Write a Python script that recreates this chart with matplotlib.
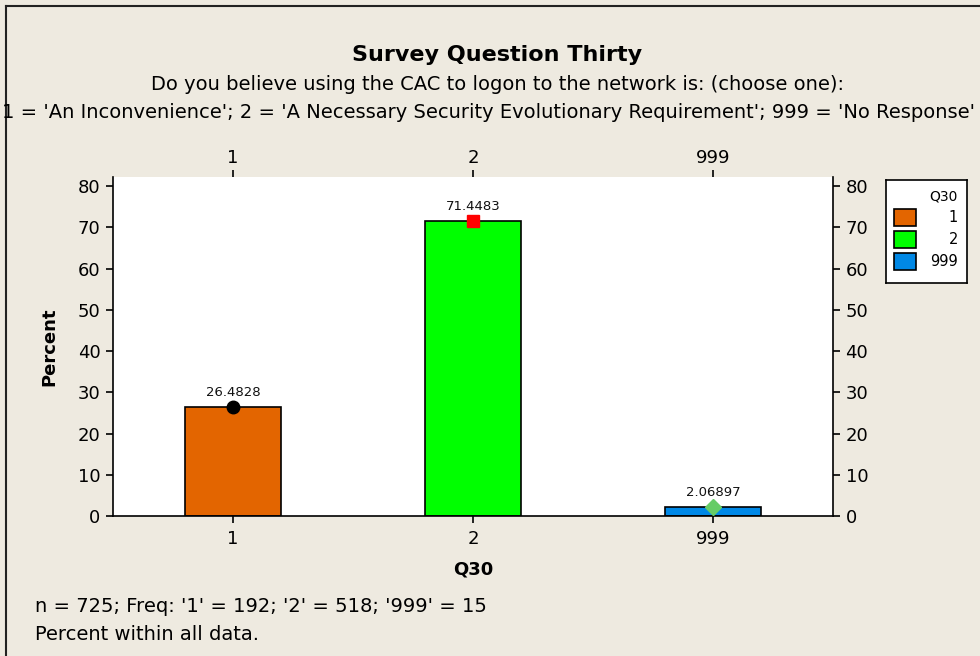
import numpy as np
import matplotlib
matplotlib.use('Agg')
import matplotlib.pyplot as plt
import matplotlib.transforms as mtransforms
from matplotlib.patches import Rectangle

# data
categories = ['1', '2', '999']
percents = [26.4828, 71.4483, 2.06897]
bar_colors = ['#E36500', '#00FF00', '#0088E6']
marker_styles = ['o', 's', 'D']
marker_colors = ['black', '#FF0000', '#66CC66']
yticks = [0, 10, 20, 30, 40, 50, 60, 70, 80]

bg = '#EEEAE0'
plt.rcParams['font.family'] = ['DejaVu Sans']

fig = plt.figure(figsize=(9.8, 6.56), dpi=100, facecolor=bg)

# frame lines on left/top edge of the figure
fig.add_artist(plt.Line2D([6/980, 6/980], [0, 1-6/656], color='#222222', lw=1.5))
fig.add_artist(plt.Line2D([6/980, 1], [1-6/656, 1-6/656], color='#222222', lw=1.5))

ax = fig.add_axes([113/980, 1-516/656, 720/980, 339/656])
ax.set_facecolor('white')

x = np.arange(len(categories))
ax.bar(x, percents, width=0.4, color=bar_colors, edgecolor='black', linewidth=1.2, zorder=2)
for xi, p, m, mc in zip(x, percents, marker_styles, marker_colors):
    ax.plot(xi, p, marker=m, color=mc, markersize=9 if m != 'D' else 8,
            markeredgecolor=mc, zorder=3, linestyle='none')
    ax.text(xi, p + 2.0, str(p), ha='center', va='bottom', fontsize=9.5, color='#111111')

ax.set_xlim(-0.5, 2.5)
ax.set_ylim(0, 82.2)
ax.set_xticks(x)
ax.set_xticklabels(categories)
ax.set_yticks(yticks)
ax.spines['top'].set_visible(False)
for s in ['left', 'right', 'bottom']:
    ax.spines[s].set_linewidth(1.2)
ax.tick_params(axis='both', labelsize=13, length=5, width=1.2, direction='out', pad=4)
ax.tick_params(axis='x', top=True, labeltop=True, pad=5)
ax.tick_params(axis='y', right=True, labelright=True)

# top tick labels sit a little closer to the axes
shift = mtransforms.ScaledTranslation(0, -3/72, fig.dpi_scale_trans)
for t in ax.xaxis.get_major_ticks():
    t.label2.set_transform(t.label2.get_transform() + shift)

ax.set_ylabel('Percent', fontsize=13, fontweight='bold', labelpad=14)
ax.set_xlabel('Q30', fontsize=13, fontweight='bold', labelpad=9)

fig.text(497/980, 1-55/656, 'Survey Question Thirty', ha='center', va='center',
         fontsize=16, fontweight='bold')
fig.text(497/980, 1-85/656, 'Do you believe using the CAC to logon to the network is: (choose one):',
         ha='center', va='center', fontsize=14)
fig.text(488/980, 1-112/656, "1 = 'An Inconvenience'; 2 = 'A Necessary Security Evolutionary Requirement'; 999 = 'No Response'",
         ha='center', va='center', fontsize=14)

fig.text(35/980, 1-607/656, "n = 725; Freq: '1' = 192; '2' = 518; '999' = 15", ha='left', va='center', fontsize=14)
fig.text(35/980, 1-634/656, "Percent within all data.", ha='left', va='center', fontsize=14)

# legend box
lax = fig.add_axes([886/980, 1-283/656, 81/980, 103/656])
lax.set_xlim(0, 81)
lax.set_ylim(103, 0)
lax.set_xticks([])
lax.set_yticks([])
lax.set_facecolor('white')
for s in lax.spines.values():
    s.set_linewidth(1.2)
lax.text(72, 17, 'Q30', ha='right', va='center', fontsize=10)
for i, (lab, col) in enumerate(zip(categories, bar_colors)):
    y0 = 29 + i * 22
    lax.add_patch(Rectangle((8, y0), 22, 17, facecolor=col, edgecolor='black', lw=1.2))
    lax.text(72, y0 + 9, lab, ha='right', va='center', fontsize=10.5)

fig.savefig('out.png', dpi=100, facecolor=bg)
